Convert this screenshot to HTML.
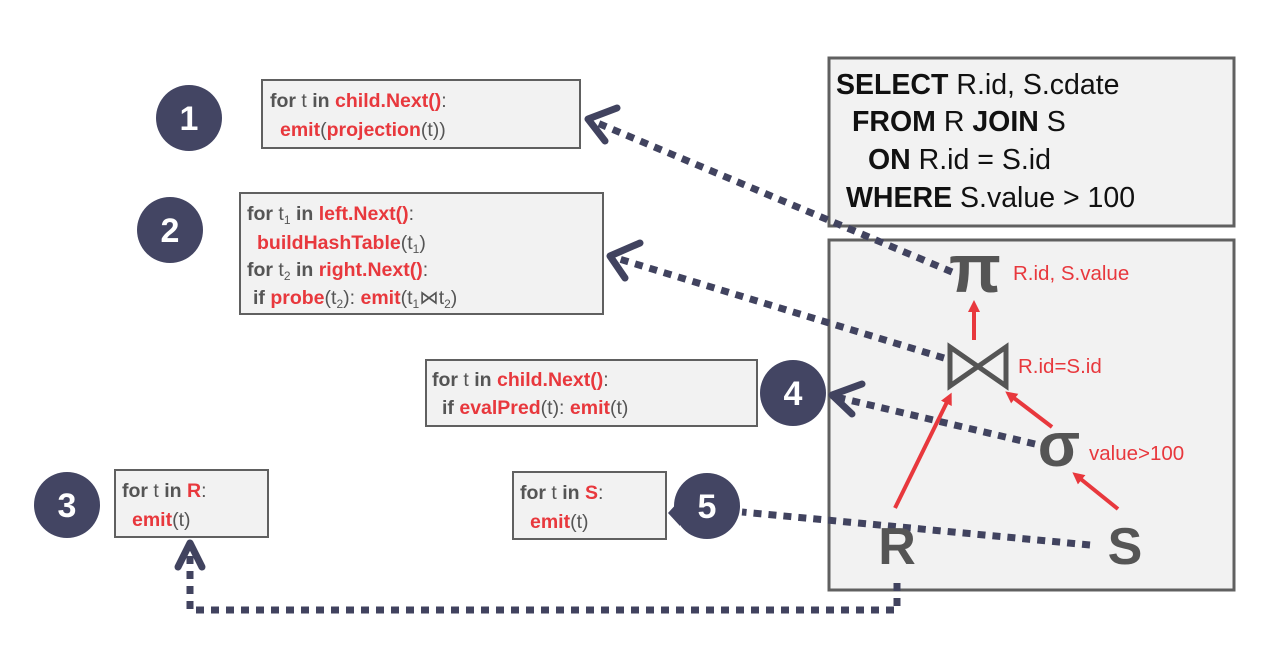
<!DOCTYPE html>
<html><head><meta charset="utf-8"><style>
html,body{margin:0;padding:0;background:#fff;width:1282px;height:654px;overflow:hidden}
svg{display:block}
text{font-family:"Liberation Sans",sans-serif}
.c{font-size:19.5px;fill:#555}
.b{font-weight:bold}
.r{fill:#e8383d;font-weight:bold}
.g{fill:#555;font-weight:bold}
.sql{font-size:28.5px;fill:#111}
.num{font-size:34px;font-weight:bold;fill:#fff;text-anchor:middle}
.sym{fill:#555;font-weight:bold;text-anchor:middle}
.lbl{fill:#e8383d;font-size:20.5px}
</style></head><body>
<svg width="1282" height="654" viewBox="0 0 1282 654" xmlns="http://www.w3.org/2000/svg">
<defs>
<marker id="ra" markerWidth="12" markerHeight="12" refX="6" refY="6" orient="auto" markerUnits="userSpaceOnUse" viewBox="0 0 12 12"><path d="M0,0 L12,6 L0,12 z" fill="#e8383d"/></marker>
</defs>
<rect x="829" y="58" width="405" height="168" fill="#f2f2f2" stroke="#606060" stroke-width="3"/>
<rect x="829" y="240" width="405" height="350" fill="#f2f2f2" stroke="#606060" stroke-width="3"/>
<rect x="262" y="80" width="318" height="68" fill="#f2f2f2" stroke="#606060" stroke-width="2"/>
<rect x="240" y="193" width="363" height="121" fill="#f2f2f2" stroke="#606060" stroke-width="2"/>
<rect x="426" y="360" width="331" height="66" fill="#f2f2f2" stroke="#606060" stroke-width="2"/>
<rect x="115" y="470" width="153" height="67" fill="#f2f2f2" stroke="#606060" stroke-width="2"/>
<rect x="513" y="472" width="153" height="67" fill="#f2f2f2" stroke="#606060" stroke-width="2"/>

<text class="sql" x="836" y="94"><tspan class="b">SELECT</tspan> R.id, S.cdate</text>
<text class="sql" x="852" y="131"><tspan class="b">FROM</tspan> R <tspan class="b">JOIN</tspan> S</text>
<text class="sql" x="868" y="169"><tspan class="b">ON</tspan> R.id = S.id</text>
<text class="sql" x="846" y="207"><tspan class="b">WHERE</tspan> S.value &gt; 100</text>

<text class="c" x="270" y="107"><tspan class="g">for</tspan> t <tspan class="g">in</tspan> <tspan class="r">child.Next()</tspan>:</text>
<text class="c" x="280" y="136"><tspan class="r">emit</tspan>(<tspan class="r">projection</tspan>(t))</text>

<text class="c" x="247" y="220"><tspan class="g">for</tspan> t<tspan font-size="12" dy="4">1</tspan><tspan dy="-4"> </tspan><tspan class="g">in</tspan> <tspan class="r">left.Next()</tspan>:</text>
<text class="c" x="257" y="249"><tspan class="r">buildHashTable</tspan>(t<tspan font-size="12" dy="4">1</tspan><tspan dy="-4">)</tspan></text>
<text class="c" x="247" y="276"><tspan class="g">for</tspan> t<tspan font-size="12" dy="4">2</tspan><tspan dy="-4"> </tspan><tspan class="g">in</tspan> <tspan class="r">right.Next()</tspan>:</text>
<text class="c" x="253" y="304"><tspan class="g">if</tspan> <tspan class="r">probe</tspan>(t<tspan font-size="12" dy="4">2</tspan><tspan dy="-4">): </tspan><tspan class="r">emit</tspan>(t<tspan font-size="12" dy="4">1</tspan><tspan dy="-4">⋈t</tspan><tspan font-size="12" dy="4">2</tspan><tspan dy="-4">)</tspan></text>

<text class="c" x="432" y="386"><tspan class="g">for</tspan> t <tspan class="g">in</tspan> <tspan class="r">child.Next()</tspan>:</text>
<text class="c" x="442" y="414"><tspan class="g">if</tspan> <tspan class="r">evalPred</tspan>(t): <tspan class="r">emit</tspan>(t)</text>

<text class="c" x="122" y="497"><tspan class="g">for</tspan> t <tspan class="g">in</tspan> <tspan class="r">R</tspan>:</text>
<text class="c" x="132" y="526"><tspan class="r">emit</tspan>(t)</text>

<text class="c" x="520" y="499"><tspan class="g">for</tspan> t <tspan class="g">in</tspan> <tspan class="r">S</tspan>:</text>
<text class="c" x="530" y="528"><tspan class="r">emit</tspan>(t)</text>

<g stroke="#41435f" stroke-width="7" fill="none" stroke-dasharray="8 7">
<line x1="952" y1="272" x2="595" y2="122"/>
<line x1="944" y1="358" x2="616" y2="258"/>
<line x1="1035" y1="444" x2="836" y2="397"/>
<line x1="1090" y1="545" x2="742" y2="512"/>
<polyline points="897,583 897,610 190,610 190,555"/>
</g>
<g stroke="#41435f" stroke-width="7" fill="none" stroke-linecap="round" stroke-linejoin="round">
<polyline points="617,108 588,119 605,141"/>
<polyline points="640,243 610,256 625,278"/>
<polyline points="862,384 832,395 852,414"/>
<polyline points="178,567 190,543 202,567"/>
</g>

<g fill="#434563">
<circle cx="189" cy="118" r="33"/>
<circle cx="170" cy="230" r="33"/>
<circle cx="793" cy="393" r="33"/>
<circle cx="67" cy="505" r="33"/>
<circle cx="707" cy="506" r="33"/>
</g>
<path d="M668,513 L680,500 L680,526 z" fill="#434563"/>
<text class="num" x="189" y="130">1</text>
<text class="num" x="170" y="242">2</text>
<text class="num" x="793" y="405">4</text>
<text class="num" x="67" y="517">3</text>
<text class="num" x="707" y="518">5</text>

<text class="sym" x="975" y="292" font-size="68" font-family="'Liberation Serif',serif">π</text>
<path d="M950,347 L950,386 L1006,347 L1006,386 Z" fill="none" stroke="#555" stroke-width="5"/>
<text class="sym" x="1059" y="466" font-size="62" font-family="'DejaVu Sans',sans-serif">σ</text>
<text class="sym" x="897" y="564" font-size="52">R</text>
<text class="sym" x="1125" y="564" font-size="52">S</text>

<text class="lbl" x="1013" y="280">R.id, S.value</text>
<text class="lbl" x="1018" y="373">R.id=S.id</text>
<text class="lbl" x="1089" y="460">value&gt;100</text>

<g stroke="#e8383d" stroke-width="4" fill="none">
<line x1="974" y1="340" x2="974" y2="306" marker-end="url(#ra)"/>
<line x1="895" y1="508" x2="949" y2="398" marker-end="url(#ra)"/>
<line x1="1052" y1="427" x2="1010" y2="395" marker-end="url(#ra)"/>
<line x1="1118" y1="509" x2="1077" y2="476" marker-end="url(#ra)"/>
</g>
</svg>
</body></html>
